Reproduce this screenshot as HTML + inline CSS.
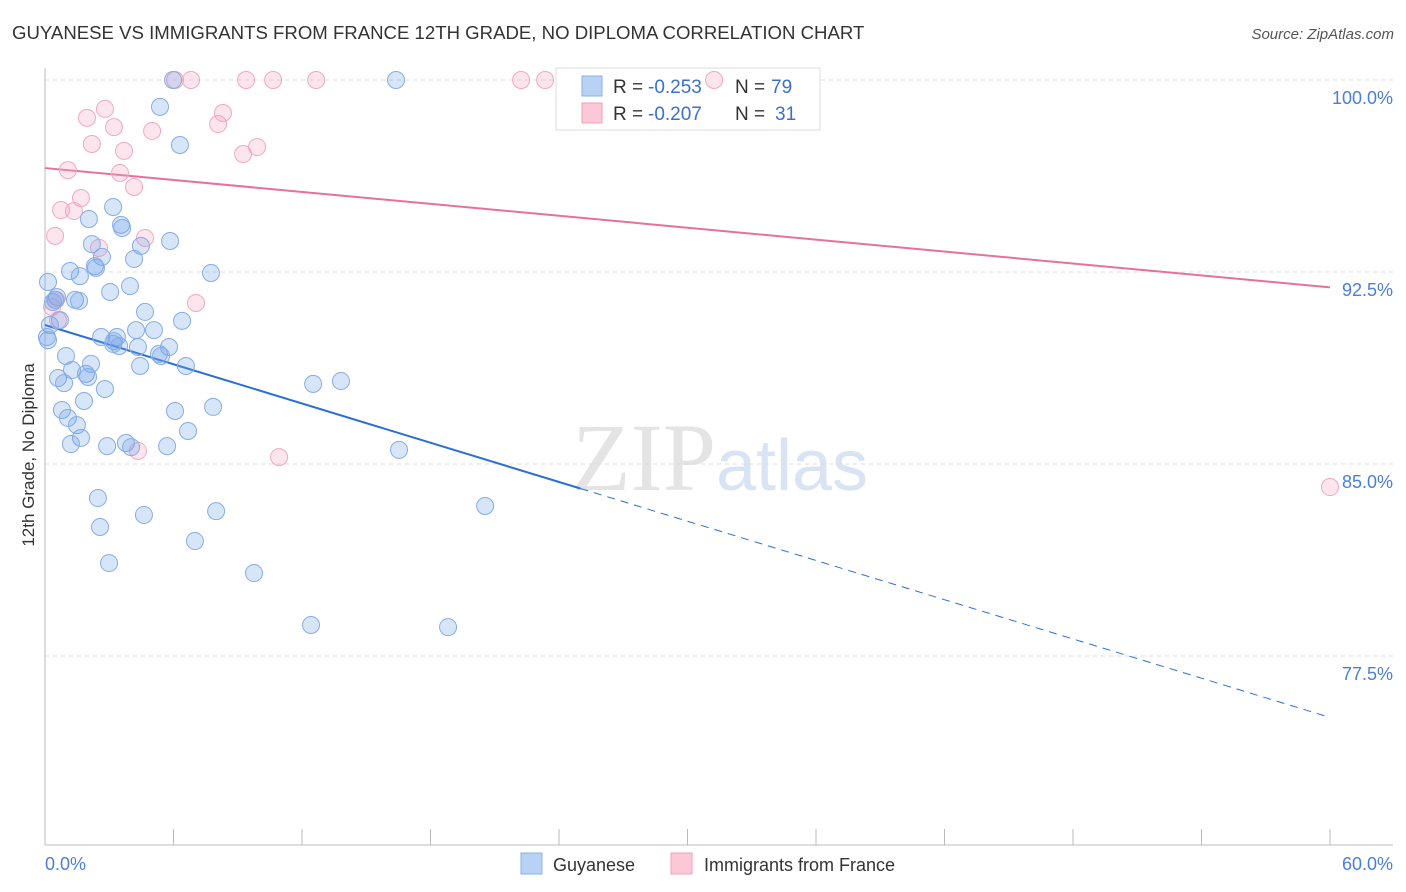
<!DOCTYPE html>
<html><head><meta charset="utf-8"><style>
body{margin:0;background:#fff;font-family:"Liberation Sans",sans-serif;}
svg{display:block}
</style></head><body>
<svg id="chart" width="1406" height="892" xmlns="http://www.w3.org/2000/svg">
<text x="12" y="39" font-size="18.6" fill="#333">GUYANESE VS IMMIGRANTS FROM FRANCE 12TH GRADE, NO DIPLOMA CORRELATION CHART</text>
<text x="1394" y="39" font-size="15" fill="#555" text-anchor="end" font-style="italic">Source: ZipAtlas.com</text>
<text x="720" y="490" font-size="96" text-anchor="middle" fill="#e4e4e4" font-family="Liberation Serif, serif">ZIP<tspan fill="#d8e4f4" font-family="Liberation Sans, sans-serif" font-size="72">atlas</tspan></text>
<g id="grid"></g><g id="axes"></g>
<g>
<rect x="556" y="68" width="264" height="62" fill="#fff" stroke="#ddd"/>
<rect x="582" y="76" width="20" height="20" fill="#b8d2f6" stroke="#8ab0e8"/>
<rect x="582" y="103" width="20" height="20" fill="#fbc8d8" stroke="#f0a0b8"/>
<text x="613" y="93" font-size="19" fill="#333">R =</text>
<text x="648" y="93" font-size="19" fill="#3a6fd0">-0.253</text>
<text x="735" y="93" font-size="19" fill="#333">N =</text>
<text x="771" y="93" font-size="19" fill="#3a6fd0">79</text>
<text x="613" y="120" font-size="19" fill="#333">R =</text>
<text x="648" y="120" font-size="19" fill="#3a6fd0">-0.207</text>
<text x="735" y="120" font-size="19" fill="#333">N =</text>
<text x="775" y="120" font-size="19" fill="#3a6fd0">31</text>
</g>
<g id="trend"></g><g id="pts"></g>
<text transform="translate(34,455) rotate(-90)" font-size="17" fill="#333" text-anchor="middle">12th Grade, No Diploma</text>
<g>
<rect x="521" y="853" width="21" height="21" fill="#b8d2f6" stroke="#8ab0e8"/>
<text x="553" y="871" font-size="18" fill="#333">Guyanese</text>
<rect x="671" y="853" width="21" height="21" fill="#fbc8d8" stroke="#f0a0b8"/>
<text x="704" y="871" font-size="18" fill="#333">Immigrants from France</text>
</g>
</svg>
<script>
const yTicks=[100,92.5,85,77.5];
const yTickLabels=["100.0%","92.5%","85.0%","77.5%"];
const xTicks=[0,6,12,18,24,30,36,42,48,54,60];
const blueX=[5.98,16.39,5.37,6.30,3.18,2.05,3.55,3.60,2.19,4.48,5.84,2.66,4.16,2.33,1.17,2.38,1.63,7.75,0.14,3.97,3.04,0.56,0.37,1.40,1.59,4.67,6.40,0.70,0.23,5.09,4.25,2.62,3.36,3.22,3.18,3.46,4.34,5.79,0.14,0.98,5.32,5.42,2.15,4.44,6.58,1.26,1.91,0.61,2.01,0.89,2.80,12.52,13.82,1.82,7.85,6.07,0.79,1.07,1.49,1.68,6.68,1.21,2.90,3.78,4.02,5.70,16.53,2.47,20.55,7.99,2.57,4.62,7.00,2.99,9.76,12.42,18.82,0.09,0.47];
const blueY=[100,100,98.95,97.46,95.04,94.57,94.34,94.22,93.59,93.52,93.71,93.09,93.01,92.73,92.54,92.66,92.34,92.46,92.11,91.95,91.72,91.52,91.33,91.41,91.37,90.94,90.59,90.62,90.43,90.23,90.23,89.96,89.96,89.80,89.69,89.61,89.57,89.57,89.84,89.22,89.30,89.22,88.91,88.83,88.83,88.67,88.52,88.36,88.40,88.16,87.93,88.13,88.24,87.46,87.23,87.07,87.11,86.80,86.52,86.02,86.29,85.78,85.70,85.82,85.66,85.70,85.55,83.67,83.36,83.16,82.54,83.01,81.99,81.13,80.74,78.71,78.63,89.96,91.41];
const pinkX=[6.07,6.82,9.39,10.65,12.66,22.23,23.35,31.24,2.80,8.31,1.96,3.22,8.08,5.00,2.19,3.69,9.25,9.90,1.07,3.50,4.16,1.68,0.75,1.35,0.47,4.67,2.52,7.05,0.51,0.61,4.34,10.93,60.0,0.33];
const pinkY=[100,100,100,100,100,100,100,100,98.87,98.71,98.52,98.16,98.28,98.01,97.50,97.23,97.11,97.38,96.48,96.37,95.82,95.39,94.92,94.88,93.91,93.83,93.44,91.29,91.41,90.62,85.51,85.27,84.10,91.13];
const blueTrend=[90.43,75.1];
const pinkTrend=[96.56,91.9];
const X=v=>45+v/60*1285, Y=v=>80+(100-v)*25.6;
const NS="http://www.w3.org/2000/svg";
function mk(tag,attrs,parent){const e=document.createElementNS(NS,tag);for(const k in attrs)e.setAttribute(k,attrs[k]);document.getElementById(parent).appendChild(e);return e;}
yTicks.forEach((t,i)=>{
 const l=mk('line',{x1:45,x2:1393,y1:Y(t),y2:Y(t),stroke:'#ddd','stroke-dasharray':'4,4'},'grid');
 
 
 const tx=mk('text',{x:1393,y:Y(t)+24,'font-size':18,fill:'#4a7fd8','text-anchor':'end'},'grid');
 tx.textContent=yTickLabels[i];
 
 
});
const ax=mk('line',{x1:45,x2:45,y1:68,y2:845,stroke:'#bbb'},'axes');


const bx=mk('line',{x1:45,x2:1393,y1:845,y2:845,stroke:'#bbb'},'axes');


xTicks.forEach(t=>{const l=mk('line',{x1:X(t),x2:X(t),y1:829,y2:845,stroke:'#bbb'},'axes');
 
 });
[[0,'0.0%',45,'start'],[60,'60.0%',1393,'end']].forEach(a=>{const t=mk('text',{x:a[2],y:870,'font-size':18,fill:'#4a7fd8','text-anchor':a[3]},'axes');t.textContent=a[1];
 
 });
function pts(xs,ys,fill,stroke,name){xs.forEach((x,i)=>{const c=mk('circle',{cx:X(x),cy:Y(ys[i]),r:8.5,fill:fill,stroke:stroke,'stroke-width':1},'pts');
 
 });}
pts(pinkX,pinkY,'rgba(245,160,190,0.28)','#f2a8c0','france-point');
pts(blueX,blueY,'rgba(110,160,235,0.28)','#86ace6','guyanese-point');
const bs=blueTrend[0]+(blueTrend[1]-blueTrend[0])*(25/60);
const b1=mk('line',{x1:X(0),y1:Y(blueTrend[0]),x2:X(25),y2:Y(bs),stroke:'#2a6fd6','stroke-width':2},'trend');


const b2=mk('line',{x1:X(25),y1:Y(bs),x2:X(60),y2:Y(blueTrend[1]),stroke:'#2a6fd6','stroke-width':1,'stroke-dasharray':'8,6'},'trend');


const p1=mk('line',{x1:X(0),y1:Y(pinkTrend[0]),x2:X(60),y2:Y(pinkTrend[1]),stroke:'#e8709a','stroke-width':2},'trend');


</script>
</body></html>
